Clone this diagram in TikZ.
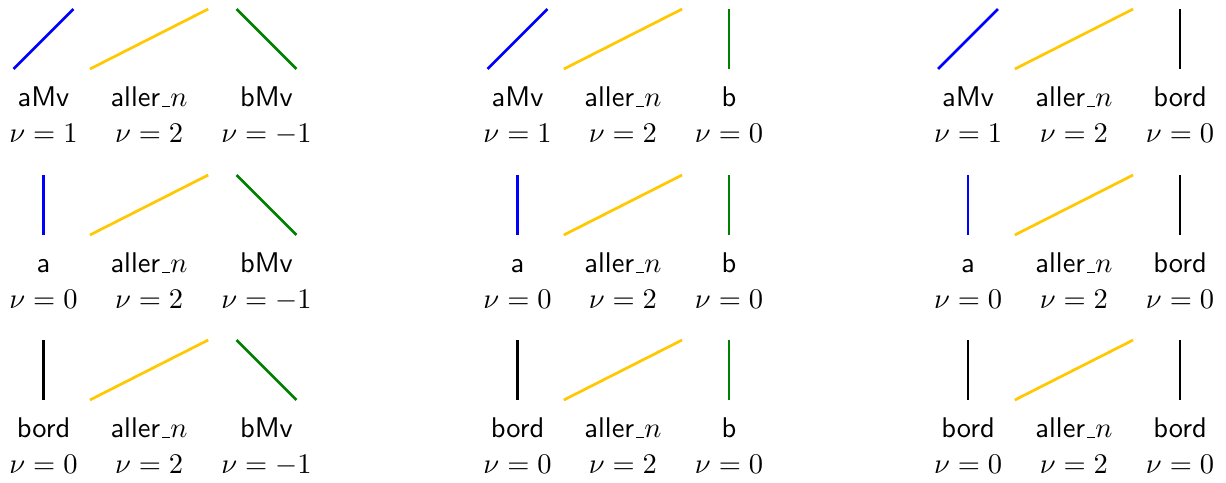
\documentclass[tikz,border=0pt]{standalone}
\usepackage{tikz}
\usetikzlibrary{positioning}
\definecolor{cblue}{RGB}{0,0,255}
\definecolor{cyel}{RGB}{255,200,0}
\definecolor{cgreen}{RGB}{0,128,0}
\newcommand{\usc}{\leavevmode\kern.06em\vbox{\hrule width.3em}}
\tikzset{
  seg/.style={line width=0.95pt},
  lab/.style={font=\sffamily,inner sep=0pt,anchor=base},
  nulab/.style={inner sep=0pt,anchor=base}
}

\begin{document}
\begin{tikzpicture}
  \useasboundingbox (0,0) rectangle (15.136,5.963);
  % three panels side by side, each with three rows of segments
  \foreach \xa/\xb/\xc/\dc/\cc/\nc/\vc [count=\p] in {
      0.537/1.840/3.290/0.37/cgreen/bMv/-1,
      6.389/7.691/9.0/0/cgreen/b/0,
      11.951/13.259/14.568/0/black/bord/0}
  \foreach \yb/\da/\ca/\na/\va [count=\r] in {
      5.111/0.37/cblue/aMv/1,
      3.062/0/cblue/a/0,
      1.025/0/black/bord/0} {
    \draw[seg,\ca] (\xa-\da,\yb) -- (\xa+\da,\yb+0.74);
    \draw[seg,cyel] (\xb-0.73,\yb) -- (\xb+0.73,\yb+0.74);
    \draw[seg,\cc] (\xc-\dc,\yb+0.74) -- (\xc+\dc,\yb);
    \node[lab] (a\p\r) at (\xa,\yb-0.469) {\na};
    \node[lab] (m\p\r) at (\xb,\yb-0.469) {aller\usc$n$};
    \node[lab] (b\p\r) at (\xc,\yb-0.469) {\nc};
    \node[nulab] (na\p\r) at ([yshift=-0.444cm]a\p\r.base) {$\nu=\va$};
    \node[nulab] (nm\p\r) at ([yshift=-0.444cm]m\p\r.base) {$\nu=2$};
    \node[nulab] (nb\p\r) at ([yshift=-0.444cm]b\p\r.base) {$\nu=\vc$};
  }
\end{tikzpicture}
\end{document}
